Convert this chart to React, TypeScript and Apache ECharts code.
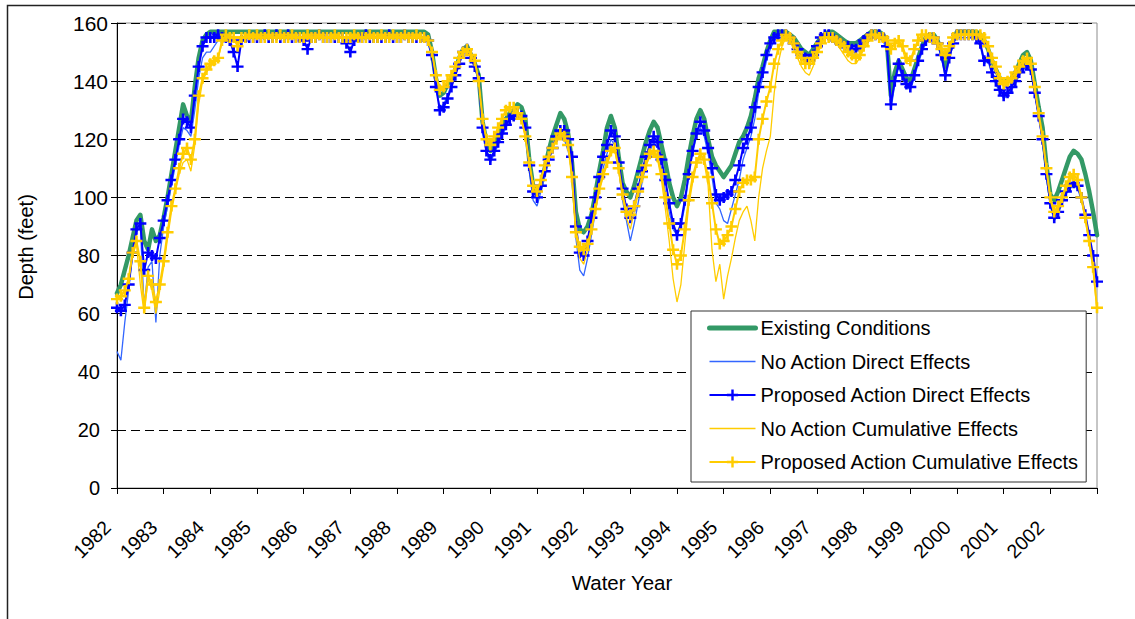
import React, { useEffect, useRef } from "react";
import * as echarts from "echarts";

// Monthly values, starting 1982.0, one row per water year, final value at 2003.0
const existingConditions = [
  67, 70, 75, 80, 86, 92, 94, 85, 82, 89, 85, 87,
  93, 100, 108, 116, 124, 132, 128, 126, 138, 148, 154, 156,
  157, 157, 157, 157, 157, 157, 157, 157, 157, 157, 157, 157,
  157, 157, 157, 157, 157, 157, 157, 157, 157, 157, 157, 157,
  157, 157, 157, 157, 157, 157, 157, 157, 157, 157, 157, 157,
  157, 157, 157, 157, 157, 157, 157, 157, 157, 157, 157, 157,
  157, 157, 157, 157, 157, 157, 157, 157, 156, 150, 141, 135,
  136, 139, 141, 144, 148, 151, 152, 149, 146, 142, 126, 119,
  116, 118, 121, 124, 127, 129, 130, 132, 131, 127, 113, 104,
  101, 104, 110, 116, 121, 125, 129, 127, 122, 112, 95, 89,
  88, 90, 94, 101, 109, 116, 124, 128, 124, 114, 105, 102,
  100, 104, 109, 114, 119, 123, 126, 124, 118, 112, 105, 100,
  97, 100, 106, 114, 121, 127, 130, 127, 120, 114, 111, 109,
  107, 109, 111, 115, 119, 121, 124, 128, 134, 141, 145, 150,
  154, 157, 157, 157, 157, 156, 155, 153, 151, 150, 149, 151,
  153, 155, 156, 157, 157, 156, 155, 154, 153, 153, 153, 154,
  155, 156, 157, 157, 157, 156, 153, 135, 143, 147, 144, 141,
  140, 144, 148, 152, 155, 156, 156, 154, 150, 145, 150, 154,
  157, 157, 157, 157, 157, 157, 156, 154, 151, 147, 144, 141,
  140, 140, 141, 143, 146, 149, 150, 147, 139, 131, 124, 111,
  101, 99, 102, 106, 110, 114, 116, 115, 113, 108, 102, 95,
  87,
];

const noActionDirect = [
  47, 44, 57, 68, 80, 88, 90, 62, 76, 78, 57, 80,
  90, 97, 104, 111, 118, 124, 123, 121, 130, 141, 148, 150,
  150, 152, 154, 155, 155, 155, 154, 153, 154, 155, 155, 155,
  155, 155, 155, 155, 155, 155, 155, 155, 155, 155, 155, 155,
  155, 155, 155, 155, 155, 155, 155, 155, 155, 155, 155, 155,
  155, 155, 155, 155, 155, 155, 155, 155, 155, 155, 155, 155,
  155, 155, 155, 155, 155, 155, 155, 155, 153, 148, 138, 131,
  132, 135, 139, 143, 147, 150, 151, 148, 145, 140, 122, 115,
  112, 115, 118, 121, 124, 127, 128, 129, 127, 123, 109, 99,
  97, 102, 107, 112, 117, 121, 122, 120, 116, 110, 86, 75,
  73, 79, 87, 95, 103, 110, 115, 120, 118, 110, 99, 92,
  85, 91, 98, 105, 111, 116, 119, 117, 110, 102, 95, 89,
  87, 90, 97, 107, 115, 121, 124, 121, 115, 107, 98, 96,
  92, 91, 96, 101, 106, 113, 117, 121, 127, 136, 141, 147,
  151, 154, 155, 155, 155, 154, 152, 150, 148, 147, 146, 148,
  151, 154, 155, 155, 154, 153, 152, 151, 151, 150, 150, 151,
  153, 154, 155, 155, 155, 154, 150, 130, 139, 145, 141, 138,
  137, 141, 146, 150, 153, 155, 155, 153, 148, 141, 147, 153,
  155, 155, 155, 155, 155, 154, 152, 146, 147, 142, 139, 136,
  134, 135, 137, 139, 142, 144, 145, 143, 136, 128, 119, 107,
  97, 92, 94, 98, 101, 103, 104, 103, 99, 93, 86, 79,
  70,
];

const proposedActionDirect = [
  62, 61, 63, 70, 81, 89, 91, 75, 81, 80, 79, 86,
  92, 99, 106, 113, 120, 127, 126, 124, 135, 145, 152, 155,
  155, 155, 156, 155, 155, 154, 150, 145, 154, 155, 155, 155,
  155, 155, 156, 155, 155, 156, 155, 155, 156, 155, 155, 155,
  154, 151, 155, 155, 156, 155, 155, 155, 155, 155, 155, 153,
  150, 154, 155, 155, 156, 155, 155, 155, 155, 155, 156, 155,
  155, 155, 156, 155, 155, 155, 155, 155, 154, 149, 138, 130,
  131, 134, 138, 142, 146, 150, 151, 148, 145, 141, 124, 116,
  113, 116, 119, 122, 125, 127, 128, 129, 128, 124, 111, 102,
  100, 104, 109, 113, 117, 121, 123, 123, 120, 114, 90, 81,
  80, 85, 93, 100, 107, 114, 118, 123, 121, 112, 103, 96,
  93, 97, 103, 109, 114, 118, 121, 119, 113, 106, 98, 91,
  87, 91, 99, 108, 116, 122, 126, 123, 117, 110, 101, 99,
  100, 101, 102, 106, 111, 117, 120, 124, 131, 138, 143, 149,
  153, 155, 156, 156, 156, 155, 153, 151, 149, 148, 147, 149,
  152, 155, 156, 156, 155, 154, 153, 152, 152, 151, 151, 152,
  154, 155, 156, 156, 156, 155, 152, 132, 140, 146, 142, 139,
  138, 142, 147, 151, 154, 155, 155, 153, 149, 142, 148, 153,
  156, 156, 156, 156, 156, 155, 153, 147, 148, 143, 140, 137,
  135, 136, 138, 140, 143, 145, 146, 144, 136, 128, 120, 108,
  98, 93, 95, 99, 102, 104, 105, 104, 100, 94, 87, 80,
  71,
];

const noActionCumulative = [
  65, 66, 68, 72, 80, 84, 70, 60, 72, 68, 60, 68,
  76, 86, 95, 102, 108, 112, 113, 109, 118, 132, 140, 143,
  145, 146, 148, 153, 155, 155, 155, 155, 155, 155, 155, 155,
  155, 155, 155, 155, 155, 155, 155, 155, 155, 155, 155, 155,
  155, 155, 155, 155, 155, 155, 155, 155, 155, 155, 155, 155,
  155, 155, 155, 155, 155, 155, 155, 155, 155, 155, 155, 155,
  155, 155, 155, 155, 155, 155, 155, 155, 154, 150, 142, 137,
  138, 140, 142, 145, 148, 150, 151, 149, 147, 140, 127, 120,
  118, 121, 124, 127, 130, 131, 131, 129, 127, 121, 112, 104,
  102, 106, 111, 114, 117, 120, 122, 121, 118, 107, 87, 79,
  77, 82, 88, 95, 102, 107, 111, 115, 116, 109, 100, 93,
  89, 95, 101, 106, 111, 114, 116, 113, 106, 96, 85, 72,
  64, 70, 84, 97, 105, 111, 115, 112, 104, 82, 71, 77,
  65, 73, 79, 86, 92, 95, 97, 92, 85, 100, 110, 116,
  121, 136, 146, 152, 155, 154, 151, 148, 145, 143, 142, 145,
  149, 152, 155, 155, 154, 153, 151, 149, 147, 146, 146, 148,
  151, 154, 156, 156, 155, 155, 154, 151, 153, 154, 151, 146,
  146, 150, 154, 156, 156, 155, 155, 153, 150, 148, 151, 155,
  156, 156, 156, 156, 156, 156, 155, 153, 151, 147, 143, 140,
  138, 139, 140, 142, 144, 146, 147, 145, 137, 128, 120, 109,
  99, 94, 96, 99, 103, 106, 107, 105, 99, 92, 84, 75,
  61,
];

const proposedActionCumulative = [
  65, 66, 68, 72, 81, 85, 78, 62, 73, 70, 64, 70,
  78, 88, 97, 103, 110, 115, 117, 113, 120, 135, 141, 144,
  146, 147, 148, 154, 156, 155, 155, 152, 155, 155, 156, 155,
  156, 155, 155, 156, 155, 155, 156, 155, 155, 156, 155, 155,
  155, 156, 155, 155, 156, 155, 155, 155, 156, 155, 155, 155,
  155, 156, 155, 155, 155, 156, 155, 155, 156, 155, 155, 156,
  155, 155, 156, 155, 155, 156, 155, 155, 154, 150, 142, 137,
  138, 140, 142, 145, 148, 150, 151, 149, 147, 140, 127, 120,
  118, 121, 124, 127, 130, 131, 131, 129, 127, 121, 112, 104,
  102, 106, 111, 114, 117, 120, 122, 121, 118, 107, 88, 83,
  82, 84, 89, 96, 103, 108, 112, 116, 117, 110, 101, 95,
  94, 97, 102, 107, 111, 115, 116, 114, 108, 100, 91, 82,
  77, 80, 89, 99, 107, 112, 115, 113, 107, 98, 89, 84,
  85, 87, 90, 96, 102, 105, 106, 106, 107, 120, 127, 133,
  138, 146, 151, 154, 156, 155, 153, 150, 148, 146, 146, 148,
  150, 153, 155, 155, 155, 154, 153, 152, 150, 149, 148, 149,
  152, 154, 156, 156, 155, 155, 154, 151, 153, 154, 152, 148,
  147, 151, 154, 156, 156, 155, 155, 153, 151, 149, 152, 155,
  156, 156, 156, 156, 156, 156, 156, 155, 152, 148, 145, 141,
  139, 140, 141, 143, 145, 147, 148, 146, 138, 129, 121, 110,
  100, 95, 97, 100, 104, 107, 108, 106, 100, 93, 85, 76,
  62,
];

const startYear = 1982;
const endYear = 2003;
const stepsPerYear = 12;
const yTicks = { min: 0, max: 160, interval: 20 };

const seriesNames = [
  "Existing Conditions",
  "No Action Direct Effects",
  "Proposed Action Direct Effects",
  "No Action Cumulative Effects",
  "Proposed Action Cumulative Effects",
];

const FONT = "'Liberation Sans', Arial, Helvetica, sans-serif";
const PLUS = "path://M4,0h2.2v3.9h4v2.2h-4v3.9h-2.2v-3.9h-4v-2.2h4z";

function toPoints(values: number[]) {
  return values.map((v, i) => [startYear + i / stepsPerYear, v]);
}

export default function App() {
  const ref = useRef<HTMLDivElement>(null);

  useEffect(() => {
    if (!ref.current) return;
    const chart = echarts.init(ref.current, undefined, { renderer: "svg" });

    const option: any = {
      animation: false,
      backgroundColor: "#ffffff",
      textStyle: { fontFamily: FONT },
      grid: {
        left: 117,
        top: 23,
        right: 38,
        bottom: 131,
        show: true,
        borderColor: "#8c8c8c",
        borderWidth: 1,
        backgroundColor: "transparent",
      },
      xAxis: {
        type: "value",
        min: startYear,
        max: endYear,
        interval: 1,
        axisLine: { show: true, onZero: false, lineStyle: { color: "#000", width: 1 } },
        axisTick: { show: true, length: 6, lineStyle: { color: "#000" } },
        splitLine: { show: false },
        axisLabel: {
          rotate: 45,
          margin: 26,
          color: "#000",
          fontFamily: FONT,
          formatter: (v: number) => (v >= endYear ? "" : `{y|${Math.round(v)}}`),
          rich: {
            y: { fontSize: 19.5, fontFamily: FONT, color: "#000", padding: [0, 14, 0, 0] },
          },
        },
      },
      yAxis: {
        type: "value",
        min: yTicks.min,
        max: yTicks.max,
        interval: yTicks.interval,
        axisLine: { show: true, lineStyle: { color: "#000", width: 1 } },
        axisTick: { show: true, length: 6, lineStyle: { color: "#000" } },
        splitLine: { show: true, lineStyle: { color: "#000", width: 1, type: [9, 5] } },
        axisLabel: {
          margin: 9,
          color: "#000",
          fontFamily: FONT,
          formatter: (v: number) => (v >= 100 ? `{w|${v}}` : `{n|${v}}`),
          rich: {
            w: { fontSize: 21, fontFamily: FONT, color: "#000" },
            n: { fontSize: 20, fontFamily: FONT, color: "#000", padding: [0, 8, 0, 0] },
          },
        },
      },
      legend: {
        orient: "vertical",
        left: 691,
        top: 311,
        itemWidth: 46,
        itemHeight: 14,
        itemGap: 11.5,
        padding: [6, 7, 9, 16],
        borderColor: "#333",
        borderWidth: 1,
        backgroundColor: "#fff",
        textStyle: { fontSize: 20, color: "#000", fontFamily: FONT, lineHeight: 22 },
        data: [
          { name: seriesNames[0], itemStyle: { opacity: 0 }, lineStyle: { width: 5, cap: "round" } },
          { name: seriesNames[1], itemStyle: { opacity: 0 }, lineStyle: { width: 1.5 } },
          { name: seriesNames[2], lineStyle: { width: 2 } },
          { name: seriesNames[3], itemStyle: { opacity: 0 }, lineStyle: { width: 1.5 } },
          { name: seriesNames[4], lineStyle: { width: 2 } },
        ],
      },
      graphic: [
        {
          type: "rect",
          shape: { x: 7.5, y: 5.5, width: 1300, height: 800 },
          style: { fill: "none", stroke: "#222", lineWidth: 1.5 },
          silent: true,
          z: 100,
        },
        {
          type: "text",
          x: 26,
          y: 247,
          rotation: Math.PI / 2,
          style: {
            text: "Depth (feet)",
            fontSize: 20,
            fontFamily: FONT,
            fill: "#000",
            align: "center",
            verticalAlign: "middle",
          },
        },
        {
          type: "text",
          x: 622,
          y: 582,
          style: {
            text: "Water Year",
            fontSize: 20.5,
            fontFamily: FONT,
            fill: "#000",
            align: "center",
            verticalAlign: "middle",
          },
        },
      ],
      series: [
        {
          name: seriesNames[0],
          type: "line",
          data: toPoints(existingConditions),
          symbol: "none",
          color: "#339966",
          lineStyle: { color: "#339966", width: 4.5, cap: "round", join: "round" },
          z: 2,
        },
        {
          name: seriesNames[1],
          type: "line",
          data: toPoints(noActionDirect),
          symbol: "none",
          color: "#3366ff",
          lineStyle: { color: "#3366ff", width: 1.3 },
          z: 3,
        },
        {
          name: seriesNames[2],
          type: "line",
          data: toPoints(proposedActionDirect),
          symbol: PLUS,
          symbolSize: [12, 11],
          symbolKeepAspect: false,
          color: "#0000ff",
          itemStyle: { color: "#0000ff" },
          lineStyle: { color: "#0000ff", width: 2 },
          z: 4,
        },
        {
          name: seriesNames[3],
          type: "line",
          data: toPoints(noActionCumulative),
          symbol: "none",
          color: "#ffcc00",
          lineStyle: { color: "#ffcc00", width: 1.3 },
          z: 5,
        },
        {
          name: seriesNames[4],
          type: "line",
          data: toPoints(proposedActionCumulative),
          symbol: PLUS,
          symbolSize: [12, 11],
          symbolKeepAspect: false,
          color: "#ffcc00",
          itemStyle: { color: "#ffcc00" },
          lineStyle: { color: "#ffcc00", width: 2 },
          z: 6,
        },
      ],
    };

    chart.setOption(option);
    return () => chart.dispose();
  }, []);

  return (
    <div
      ref={ref}
      style={{ position: "absolute", left: 0, top: 0, width: 1135, height: 619 }}
    />
  );
}
